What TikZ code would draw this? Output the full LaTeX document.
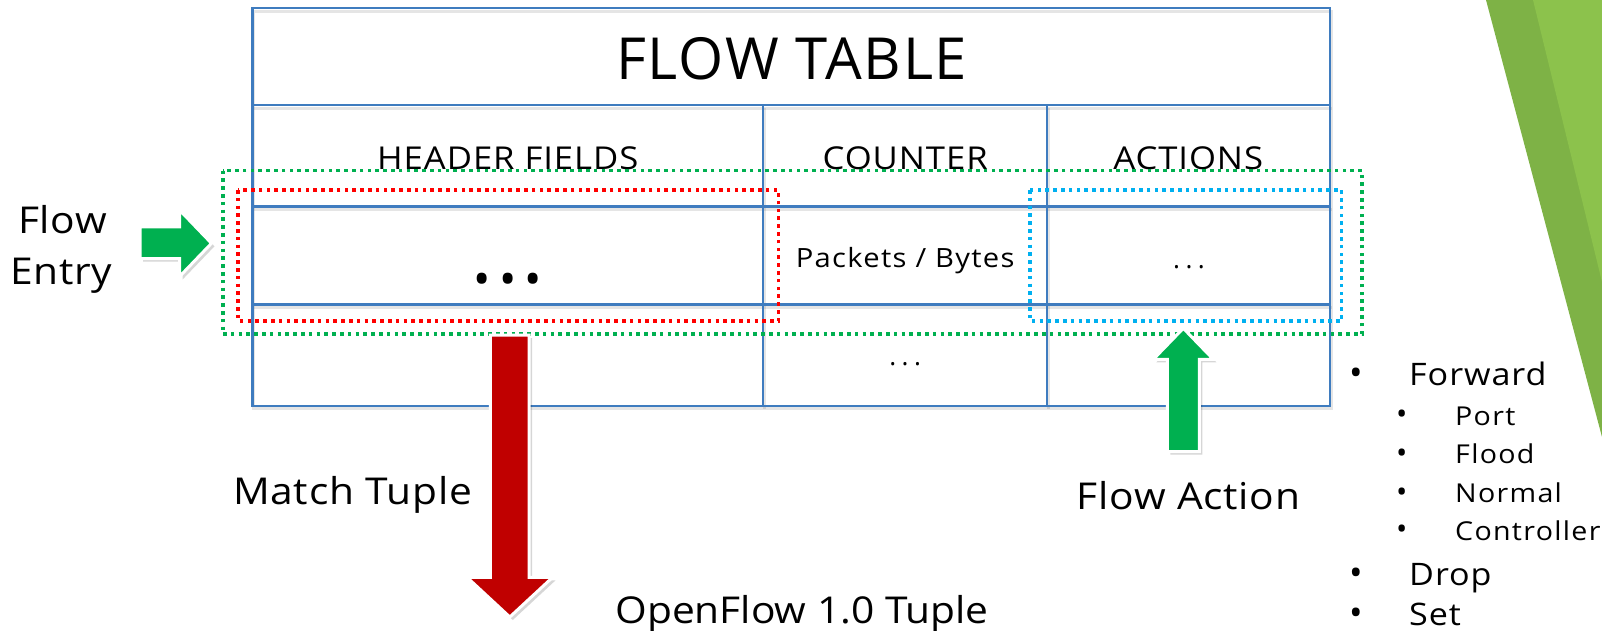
\documentclass[tikz,border=0pt]{standalone}
\usepackage{fontspec}
\setmainfont{Open Sans}
\newfontfamily\widesans[FakeStretch=1.1]{Open Sans}
\definecolor{gridblue}{HTML}{3F7CBF}
\definecolor{entrygreen}{HTML}{00B050}
\definecolor{matchred}{HTML}{FF0000}
\definecolor{actionblue}{HTML}{00B0F0}
\definecolor{arrowred}{HTML}{C00000}
\definecolor{leafdark}{HTML}{7EB246}
\definecolor{leaflight}{HTML}{8CC24C}
\begin{document}
\begin{tikzpicture}[x=1pt,y=-1pt,
  grid/.style={draw=gridblue, line width=2.2pt},
  gridshadow/.style={draw=black, opacity=0.10, line width=3pt},
  dotbox/.style={line width=3.6pt, dash pattern=on 3.6pt off 4.2pt},
  blockarrow/.style={draw=white, line width=3pt, line join=miter},
  blockshadow/.style={fill=black, opacity=0.16},
  titletext/.style={font={\fontsize{58}{62}\selectfont\addfontfeatures{LetterSpace=3}}, anchor=base},
  headtext/.style={font={\widesans\fontsize{31.5}{34}\selectfont\addfontfeatures{LetterSpace=3}}, anchor=base},
  celltext/.style={font={\widesans\fontsize{26.5}{28}\selectfont\addfontfeatures{LetterSpace=5}}, anchor=base},
  dotstext/.style={font=\fontsize{26}{28}\selectfont, anchor=base},
  labeltext/.style={font={\widesans\fontsize{37}{40}\selectfont\addfontfeatures{LetterSpace=2}}, anchor=base},
  mainitem/.style={font={\widesans\fontsize{31}{34}\selectfont\addfontfeatures{LetterSpace=3}}, anchor=base west, inner sep=1pt},
  subitem/.style={font={\widesans\fontsize{26}{28}\selectfont\addfontfeatures{LetterSpace=5}}, anchor=base west, inner sep=1pt},
  mainbullet/.style={font=\fontsize{36}{38}\selectfont, anchor=base, inner sep=1pt},
  subbullet/.style={font=\fontsize{30}{32}\selectfont, anchor=base, inner sep=1pt}]
\useasboundingbox (0,0) rectangle (1602,631);

% decorative leaves at the right edge
\fill[leafdark] (1486,0) -- (1602,0) -- (1602,437) -- cycle;
\fill[leaflight] (1533,0) -- (1602,0) -- (1602,282) -- cycle;

% soft shadow under the table rules
\begin{scope}[shift={(1.5,3)}]
  \draw[gridshadow] (252.4,8.2) rectangle (1330.2,405.6);
  \draw[gridshadow] (252.4,105.2) -- (1330.2,105.2);
  \draw[gridshadow] (252.4,206.4) -- (1330.2,206.4);
  \draw[gridshadow] (252.4,304.5) -- (1330.2,304.5);
  \draw[gridshadow] (763.2,105.2) -- (763.2,405.6);
  \draw[gridshadow] (1047.2,105.2) -- (1047.2,405.6);
\end{scope}

% the flow table
\draw[grid] (252.4,8.2) rectangle (1330.2,405.6);
\draw[grid] (252.4,105.2) -- (1330.2,105.2);
\draw[grid] (252.4,206.4) -- (1330.2,206.4);
\draw[grid] (252.4,304.5) -- (1330.2,304.5);
\draw[grid] (763.2,105.2) -- (763.2,405.6);
\draw[grid] (1047.2,105.2) -- (1047.2,405.6);

\node[titletext] (title) at (791.8,79.7) {FLOW TABLE};
\node[headtext] (hfields) at (507.8,169.6) {HEADER FIELDS};
\node[headtext] (counter) at (905.2,169.6) {COUNTER};
\node[headtext] (actions) at (1188.2,169.6) {ACTIONS};

\node[font=\fontsize{46}{50}\selectfont, anchor=base] (matchdots) at (507.8,295) {•\hspace{8pt}•\hspace{8pt}•};
\node[celltext] (packets) at (905.2,267.7) {Packets / Bytes};
\node[dotstext] (actdots) at (1189,268.7) {.\hspace{5.5pt}.\hspace{5.5pt}.};
\node[dotstext] (cntdots) at (905.2,365) {.\hspace{5.5pt}.\hspace{5.5pt}.};

% highlighted regions
\draw[dotbox, draw=entrygreen] (222.7,170.6) rectangle (1361.9,334.1);
\draw[dotbox, draw=matchred] (238,190) rectangle (778.5,320.8);
\draw[dotbox, draw=actionblue] (1029.9,190) rectangle (1341.5,320.8);

% block arrows
\fill[blockshadow] (143,229.8) -- (182.5,229.8) -- (182.5,213) -- (214.5,246.3) -- (182.5,279.6) -- (182.5,261.5) -- (143,261.5) -- cycle;
\filldraw[blockarrow, fill=entrygreen] (140,226.8) -- (179.5,226.8) -- (179.5,210) -- (211.5,243.3) -- (179.5,276.6) -- (179.5,258.5) -- (140,258.5) -- cycle;

\fill[blockshadow] (493.4,338.1) -- (532.2,338.1) -- (532.2,580.3) -- (555.6,580.3) -- (512.8,620) -- (470,580.3) -- (493.4,580.3) -- cycle;
\filldraw[blockarrow, fill=arrowred] (490.4,335.1) -- (529.2,335.1) -- (529.2,577.3) -- (552.6,577.3) -- (509.8,617) -- (467,577.3) -- (490.4,577.3) -- cycle;

\fill[blockshadow] (1170.3,454.7) -- (1202.3,454.7) -- (1202.3,362.3) -- (1216.3,362.3) -- (1186.3,331.3) -- (1156.3,362.3) -- (1170.3,362.3) -- cycle;
\filldraw[blockarrow, fill=entrygreen] (1167.3,451.7) -- (1199.3,451.7) -- (1199.3,359.3) -- (1213.3,359.3) -- (1183.3,328.3) -- (1153.3,359.3) -- (1167.3,359.3) -- cycle;

% labels
\node[labeltext] (flow) at (62.5,233) {Flow};
\node[labeltext] (entry) at (61.5,284.5) {Entry};
\node[labeltext] (match) at (352.5,504) {Match Tuple};
\node[labeltext, font={\widesans\fontsize{37}{40}\selectfont}] (openflow) at (802,623.2) {OpenFlow 1.0 Tuple};
\node[labeltext] (flowaction) at (1188.5,509) {Flow Action};

% list of action types
\node[mainbullet] (b1) at (1355.8,385) {•};
\node[mainitem] (forward) at (1408,385.2) {Forward};
\node[subbullet] (b2) at (1401.8,424) {•};
\node[subitem] (port) at (1454,425) {Port};
\node[subbullet] (b3) at (1401.8,463) {•};
\node[subitem] (flood) at (1454,463.9) {Flood};
\node[subbullet] (b4) at (1401.8,502) {•};
\node[subitem] (normal) at (1454,502.7) {Normal};
\node[subbullet] (b5) at (1401.8,539.5) {•};
\node[subitem] (controller) at (1454,540.5) {Controller};
\node[mainbullet] (b6) at (1355.8,585) {•};
\node[mainitem] (drop) at (1408,585.4) {Drop};
\node[mainbullet] (b7) at (1355.8,625) {•};
\node[mainitem] (set) at (1408,625.5) {Set};
\end{tikzpicture}
\end{document}
